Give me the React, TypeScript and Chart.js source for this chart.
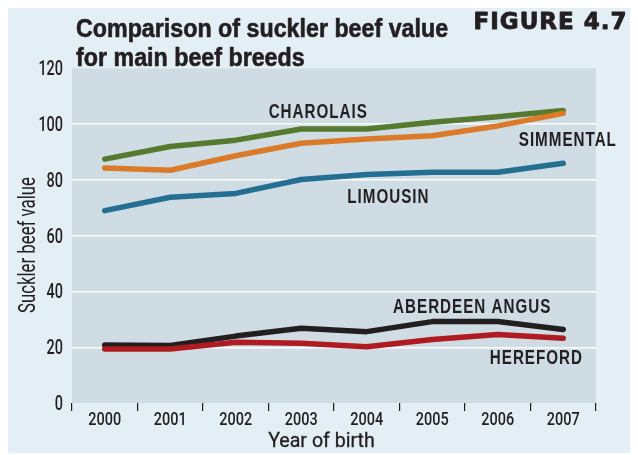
import React, { useEffect, useRef } from "react";
import { Chart, registerables } from "chart.js";

Chart.register(...registerables);

const years = ["2000", "2001", "2002", "2003", "2004", "2005", "2006", "2007"];
const yTicks = [0, 20, 40, 60, 80, 100, 120];

const charolais = [87.5, 92.0, 94.3, 98.3, 98.3, 100.7, 102.7, 104.9];
const simmental = [84.3, 83.5, 88.7, 93.2, 94.7, 95.9, 99.4, 103.9];
const limousin = [69.0, 73.8, 75.2, 80.2, 82.0, 82.8, 82.8, 86.0];
const aberdeenAngus = [20.8, 20.6, 24.0, 26.8, 25.6, 29.2, 29.2, 26.4];
const hereford = [19.4, 19.4, 21.8, 21.4, 20.2, 22.8, 24.6, 23.2];

const seriesNames = ["CHAROLAIS", "SIMMENTAL", "LIMOUSIN", "ABERDEEN ANGUS", "HEREFORD"];
// label anchor in data space: [category index, value]
const labelAnchors: [number, number][] = [
  [3.26, 104.4],
  [7.07, 94.2],
  [4.33, 73.7],
  [5.61, 34.4],
  [6.59, 15.8],
];

const TEXT = "#231f20";
const SANS = '"Liberation Sans", Arial, sans-serif';
const ROBOTO = 'Roboto, "Liberation Sans", sans-serif';

function drawText(
  ctx: CanvasRenderingContext2D,
  text: string,
  x: number,
  y: number,
  font: string,
  sx: number,
  align: CanvasTextAlign,
  baseline: CanvasTextBaseline = "alphabetic",
  spacing = "0px",
  rot = 0,
  stroke = 0
) {
  ctx.save();
  ctx.translate(x, y);
  if (rot) ctx.rotate(rot);
  ctx.scale(sx, 1);
  ctx.font = font;
  (ctx as any).letterSpacing = spacing;
  ctx.textAlign = align;
  ctx.textBaseline = baseline;
  ctx.fillStyle = TEXT;
  ctx.fillText(text, 0, 0);
  if (stroke > 0) {
    ctx.strokeStyle = TEXT;
    ctx.lineWidth = stroke;
    ctx.lineJoin = "round";
    ctx.strokeText(text, 0, 0);
  }
  ctx.restore();
}

const decorPlugin = {
  id: "decor",
  beforeDraw(chart: any) {
    const { ctx, chartArea } = chart;
    ctx.save();
    ctx.fillStyle = "#e3eef5";
    ctx.fillRect(0, 0, chart.width, chart.height);
    ctx.fillStyle = "#cfdce4";
    ctx.fillRect(chartArea.left, chartArea.top, chartArea.right - chartArea.left, chartArea.bottom - chartArea.top);
    ctx.restore();
  },
  afterDraw(chart: any) {
    const { ctx, chartArea } = chart;
    const xs = chart.scales.x;
    const ys = chart.scales.y;
    // header
    drawText(ctx, "Comparison of suckler beef value", 68, 28.5, `bold 25px ${SANS}`, 0.93, "left", "alphabetic", "0px", 0, 0.6);
    drawText(ctx, "for main beef breeds", 68, 58, `bold 25px ${SANS}`, 0.93, "left", "alphabetic", "0px", 0, 0.6);
    drawText(ctx, "FIGURE 4.7", 619.5, 21.3, 'bold 23px "DejaVu Sans", sans-serif', 1, "right", "alphabetic", "1px", 0, 0.9);
    // tick labels
    xs.ticks.forEach((t: any, i: number) => {
      drawText(ctx, xs.getLabelForValue(t.value), xs.getPixelForTick(i), 417, `500 19px ${ROBOTO}`, 0.76, "center");
    });
    ys.ticks.forEach((t: any) => {
      drawText(ctx, String(t.value), chartArea.left - 9, ys.getPixelForValue(t.value) + 2, `500 19.5px ${ROBOTO}`, 0.74, "right", "middle");
    });
    // axis titles
    drawText(ctx, "Year of birth", 313.5, 438.7, `20px ${ROBOTO}`, 0.98, "center", "alphabetic", "0px", 0, 0.3);
    drawText(ctx, "Suckler beef value", 27, 237, `23px ${ROBOTO}`, 0.73, "center", "alphabetic", "0px", -Math.PI / 2);
    // series labels
    seriesNames.forEach((name, i) => {
      const [ix, v] = labelAnchors[i];
      const base = Math.floor(ix);
      const x0 = xs.getPixelForValue(base);
      const x1 = xs.getPixelForValue(base + 1);
      const px = x0 + (x1 - x0) * (ix - base);
      drawText(ctx, name, px, ys.getPixelForValue(v), `bold 20px ${SANS}`, 0.76, "center", "middle", "1.3px");
    });
  },
};

export default function App() {
  const ref = useRef<HTMLCanvasElement>(null);
  useEffect(() => {
    document.documentElement.style.overflow = "hidden";
    const common = {
      borderWidth: 5.5,
      pointRadius: 0,
      tension: 0,
      borderCapStyle: "round" as const,
      borderJoinStyle: "round" as const,
      fill: false,
    };
    const chart = new Chart(ref.current!, {
      type: "line",
      data: {
        labels: years,
        datasets: [
          { label: "Hereford", data: hereford, borderColor: "#b01b22", ...common },
          { label: "Simmental", data: simmental, borderColor: "#db7b2a", ...common },
          { label: "Limousin", data: limousin, borderColor: "#246f92", ...common },
          { label: "Aberdeen Angus", data: aberdeenAngus, borderColor: "#231f20", ...common },
          { label: "Charolais", data: charolais, borderColor: "#557a30", ...common },
        ],
      },
      options: {
        responsive: false,
        animation: false,
        layout: { padding: { top: 60.5, right: 34, left: 0, bottom: 0 } },
        plugins: { legend: { display: false }, tooltip: { enabled: false }, title: { display: false } },
        scales: {
          x: {
            type: "category",
            offset: true,
            grid: {
              offset: true,
              drawOnChartArea: false,
              drawTicks: true,
              tickLength: 8,
              color: TEXT,
              lineWidth: 1.2,
            },
            border: { display: false },
            ticks: { display: false },
            afterFit(scale: any) {
              scale.height = 50;
            },
          },
          y: {
            min: 0,
            max: 120,
            afterBuildTicks(scale: any) {
              scale.ticks = yTicks.map((v) => ({ value: v }));
            },
            grid: {
              drawTicks: false,
              color: (c: any) => (c.tick && (c.tick.value === 0 || c.tick.value === 120) ? "rgba(0,0,0,0)" : "#ffffff"),
              lineWidth: 1.5,
            },
            border: { display: false },
            ticks: { display: false },
            afterFit(scale: any) {
              scale.width = 64;
            },
          },
        },
      },
      plugins: [decorPlugin],
    });
    return () => chart.destroy();
  }, []);
  return <canvas ref={ref} width={622} height={445} style={{ display: "block" }} />;
}
